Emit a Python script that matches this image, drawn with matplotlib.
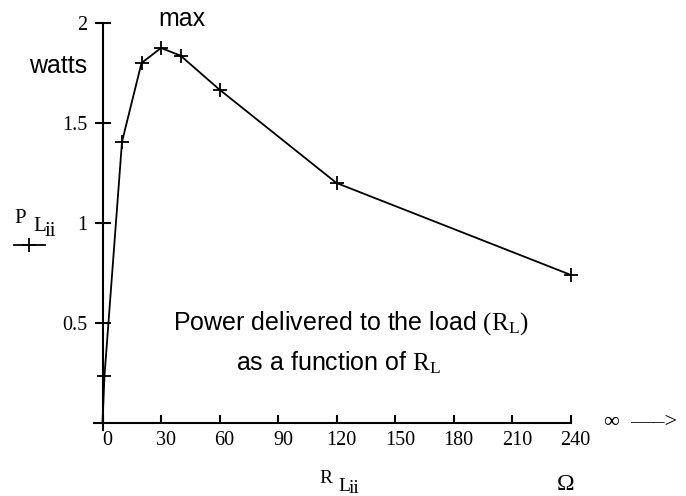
import matplotlib
matplotlib.use('Agg')
import matplotlib.pyplot as plt
from matplotlib.lines import Line2D
from matplotlib.transforms import ScaledTranslation

plt.rcParams['mathtext.fontset'] = 'custom'
plt.rcParams['mathtext.rm'] = 'Liberation Serif'
plt.rcParams['mathtext.default'] = 'rm'

# load resistance (ohm) and power delivered to the load (watts)
R = [0, 1, 10, 20, 30, 40, 60, 120, 240]
P = [0, 0.234, 1.406, 1.8, 1.875, 1.837, 1.667, 1.2, 0.741]

x_ticks = [0, 30, 60, 90, 120, 150, 180, 210, 240]
y_ticks = [0.5, 1, 1.5, 2]
y_tick_labels = ['0.5', '1', '1.5', '2']

W, H = 686, 496
SERIF = 'Liberation Serif'
SANS = 'Liberation Sans'

fig = plt.figure(figsize=(W / 100, H / 100), dpi=100)
ax = fig.add_axes([0, 0, 1, 1])
ax.patch.set_visible(False)

# x=0 sits at px 102.5 with 1.95 px per ohm, y=0 at px 423 from top with 200 px per watt
ax.set_xlim(-102.5 / 1.95, (W - 102.5) / 1.95)
ax.set_ylim(-(H - 423) / 200, 423 / 200)

for s in ['top', 'right']:
    ax.spines[s].set_visible(False)
ax.spines['left'].set_position(('data', 0))
ax.spines['left'].set_bounds(-0.035, 2)
ax.spines['bottom'].set_position(('data', 0))
ax.spines['bottom'].set_bounds(-4.5, 240)
ax.spines['left'].set_linewidth(1.5)
ax.spines['bottom'].set_linewidth(1.5)

ax.set_yticks(y_ticks, y_tick_labels)
ax.set_xticks(x_ticks, [str(v) for v in x_ticks])
ax.tick_params(axis='y', direction='inout', length=12, width=1.5, pad=5, labelsize=14.5)
ax.tick_params(axis='x', direction='in', length=6, width=1.5, pad=6, labelsize=14.5)
for lab in ax.get_xticklabels() + ax.get_yticklabels():
    lab.set_fontfamily(SERIF)
for lab in ax.get_xticklabels():
    lab.set_transform(lab.get_transform() + ScaledTranslation(0.05, 0, fig.dpi_scale_trans))

ax.plot(R, P, color='black', lw=1.3, marker='+', ms=10, mew=1.3, clip_on=False)


def fx(px):
    return px / W


def fy(py):
    return 1 - py / H


# annotations (positions in pixels from top-left)
fig.text(fx(182), fy(26), 'max', family=SANS, fontsize=18, ha='center', va='baseline')
fig.text(fx(29), fy(73), 'watts', family=SANS, fontsize=18, ha='left', va='baseline')
fig.text(fx(173), fy(330), r'Power delivered to the load $(\mathrm{R}_{\mathrm{L}})$',
         family=SANS, fontsize=18, ha='left', va='baseline')
fig.text(fx(236), fy(370), r'as a function of $\mathrm{R}_{\mathrm{L}}$',
         family=SANS, fontsize=18, ha='left', va='baseline')

# trace label on the y side
fig.text(fx(14), fy(223), 'P', family=SERIF, fontsize=15, va='baseline')
fig.text(fx(33), fy(231), 'L', family=SERIF, fontsize=15, va='baseline')
fig.text(fx(45), fy(236), 'ii', family=SERIF, fontsize=15, va='baseline')
fig.add_artist(Line2D([fx(14), fx(45)], [fy(245), fy(245)], color='black', lw=1.3,
                      transform=fig.transFigure))
fig.add_artist(Line2D([fx(29)], [fy(245)], color='black', marker='+', ms=10, mew=1.3,
                      transform=fig.transFigure))

# x label
fig.text(fx(319), fy(483), 'R', family=SERIF, fontsize=14, va='baseline')
fig.text(fx(338), fy(491), 'L', family=SERIF, fontsize=14, va='baseline')
fig.text(fx(349), fy(493), 'ii', family=SERIF, fontsize=14, va='baseline')

fig.text(fx(557), fy(490), '\u03a9', family=SERIF, fontsize=17, va='baseline')
fig.text(fx(604), fy(427), '\u221e  \u2014\u2013>', family=SERIF, fontsize=16, va='baseline')

fig.savefig('out.png', dpi=100)
